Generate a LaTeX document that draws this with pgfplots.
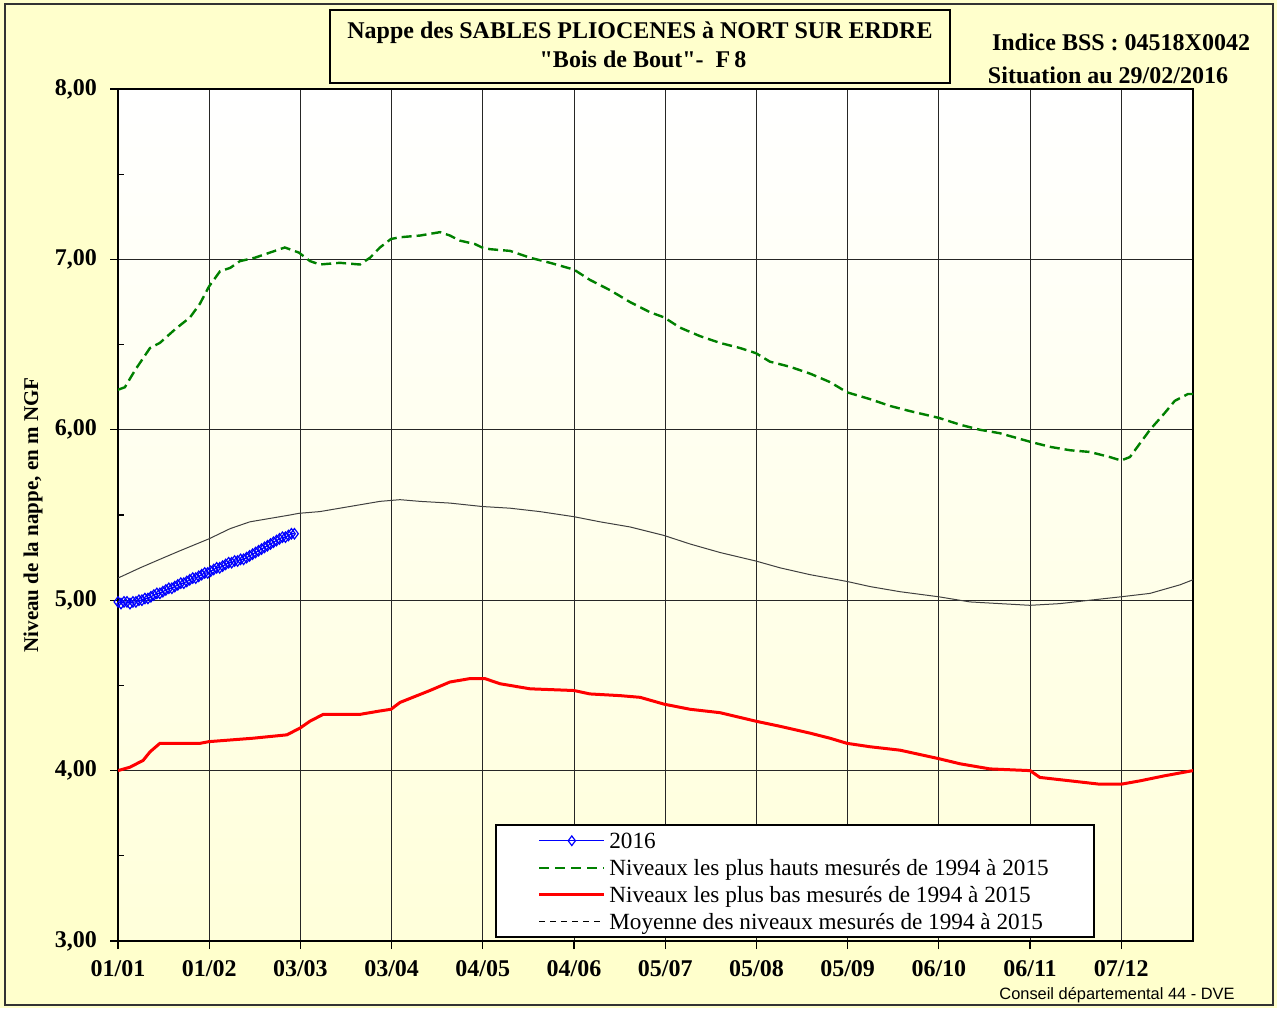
\documentclass[border=0pt]{standalone}
\usepackage{fontspec}
\setmainfont{Liberation Serif}
\setsansfont{Liberation Sans}
\usepackage{pgfplots}
\pgfplotsset{compat=1.18}
\definecolor{cream}{RGB}{255,255,204}
\definecolor{plotbot}{RGB}{255,255,218}
\definecolor{dgreen}{RGB}{0,128,0}
\definecolor{meangray}{RGB}{64,64,64}

\begin{document}
\begin{tikzpicture}[x=1pt,y=1pt]
\useasboundingbox (0,0) rectangle (638.5,504);
\fill[cream] (0,0) rectangle (638.5,504);
\draw[line width=1.2pt, black!80] (2.5,1.5) rectangle (636.5,502);
\begin{axis}[
  at={(59pt,33.5pt)}, anchor=south west,
  width=537.5pt, height=426pt, scale only axis,
  xmin=0, xmax=359.5, ymin=3, ymax=8,
  xtick={0,30.5,61,91.5,122,152.5,183,213.5,244,274.5,305,335.5},
  xticklabels={01/01,01/02,03/03,03/04,04/05,04/06,05/07,05/08,05/09,06/10,06/11,07/12},
  ytick={3,4,5,6,7,8},
  yticklabels={{3,00},{4,00},{5,00},{6,00},{7,00},{8,00}},
  minor ytick={3.5,4.5,5.5,6.5,7.5},
  grid=major,
  major grid style={black!85, line width=0.5pt},
  tick align=outside, major tick length=4pt, minor tick length=3pt,
  xtick pos=bottom, ytick pos=left,
  tick style={black, line width=0.6pt},
  minor y tick style={xshift=3pt},
  axis line style={line width=0.9pt},
  ticklabel style={font=\fontsize{12}{14}\selectfont\bfseries},
  xticklabel style={yshift=-5pt, inner ysep=0.5pt},
  yticklabel style={xshift=-3pt},
  axis background/.style={top color=white, bottom color=plotbot},
  ylabel={Niveau de la nappe, en m NGF},
  ylabel style={at={(axis description cs:-0.0790,0.5)}, anchor=center, font=\fontsize{10.5}{12}\selectfont\bfseries},
  legend image code/.code={\draw[mark repeat=2,mark phase=2,#1] plot coordinates {(0pt,0pt) (16.25pt,0pt) (32.5pt,0pt)};},
  legend style={at={(axis description cs:0.3507,0.0035)}, anchor=south west, draw=black, line width=0.8pt, fill=white,
    font=\fontsize{11.6}{13.5}\selectfont, inner xsep=21pt, inner ysep=1pt, row sep=0pt,
    nodes={inner xsep=1.75pt, inner ysep=0pt, text height=10.5pt, text depth=3pt}},
  legend cell align=left,
]
% Max levels 1994-2015
\addplot[dgreen, line width=1.2pt, dash pattern=on 5pt off 2.5pt, forget plot] coordinates {
(0,6.235) (2.3,6.25) (5.7,6.35) (10.7,6.48) (14.0,6.51) (19.1,6.59) (24.1,6.66) (27.4,6.74)
(30.4,6.84) (34.1,6.93) (37.5,6.95) (40.8,6.99) (45.8,7.01) (50.8,7.04) (55.8,7.07) (60.5,7.04)
(64.2,6.99) (67.5,6.97) (74.2,6.98) (80.9,6.97) (84.3,7.01) (87.6,7.07) (91.3,7.12) (94.3,7.13)
(101.0,7.14) (107.7,7.16) (111.0,7.14) (114.4,7.11) (119.4,7.09) (121.7,7.07) (124.4,7.06)
(131.1,7.05) (137.8,7.01) (144.5,6.98) (152.5,6.94) (157.8,6.88) (164.5,6.82) (171.2,6.75)
(177.9,6.69) (182.6,6.66) (187.9,6.60) (194.6,6.55) (201.3,6.51) (208.0,6.48) (213.3,6.45)
(218.0,6.40) (224.7,6.37) (231.4,6.33) (238.1,6.28) (243.8,6.22) (251.5,6.18) (258.2,6.14)
(264.8,6.11) (274.5,6.07) (281.6,6.03) (288.3,6.00) (294.9,5.98) (305.0,5.93) (311.7,5.90)
(318.4,5.88) (325.0,5.87) (331.7,5.84) (335.4,5.82) (338.4,5.84) (345.1,6.00) (350.1,6.10)
(353.4,6.17) (357.8,6.21) (359.5,6.21)
};
% Mean levels
\addplot[meangray, line width=0.5pt, forget plot] coordinates {
(0,5.13) (7.4,5.19) (14.0,5.24) (20.7,5.29) (30.4,5.36) (37.5,5.42) (44.1,5.46) (50.8,5.48)
(57.5,5.50) (60.5,5.51) (67.5,5.52) (74.2,5.54) (80.9,5.56) (87.6,5.58) (94.3,5.59) (101.0,5.58)
(111.0,5.57) (121.7,5.55) (131.1,5.54) (141.1,5.52) (152.5,5.49) (161.2,5.46) (171.2,5.43)
(182.6,5.38) (191.3,5.33) (201.3,5.28) (213.3,5.23) (221.4,5.19) (231.4,5.15) (243.8,5.11)
(251.5,5.08) (261.5,5.05) (274.5,5.02) (284.9,4.99) (294.9,4.98) (305.0,4.97) (315.0,4.98)
(325.0,5.00) (335.4,5.02) (345.1,5.04) (355.1,5.09) (359.5,5.12)
};
% Min levels
\addplot[red, line width=1.5pt, forget plot] coordinates {
(0,4.00) (4.0,4.02) (8.4,4.06) (10.7,4.11) (14.0,4.16) (27.4,4.16) (30.4,4.17) (45.1,4.19)
(56.5,4.21) (60.9,4.25) (64.2,4.29) (68.6,4.33) (80.9,4.33) (87.6,4.35) (91.3,4.36) (94.3,4.40)
(104.3,4.47) (111.0,4.52) (117.7,4.54) (122.7,4.54) (127.7,4.51) (137.8,4.48) (152.5,4.47)
(157.8,4.45) (167.9,4.44) (174.6,4.43) (182.6,4.39) (191.3,4.36) (201.3,4.34) (213.3,4.29)
(221.4,4.26) (231.4,4.22) (238.1,4.19) (243.8,4.16) (251.5,4.14) (261.5,4.12) (274.5,4.07)
(281.6,4.04) (291.6,4.01) (305.0,4.00) (308.3,3.96) (318.4,3.94) (328.4,3.92) (335.4,3.92)
(341.8,3.94) (350.1,3.97) (359.5,4.00)
};
% 2016
\addplot[blue, line width=0.6pt, mark=diamond, mark size=2.6pt, mark options={solid, blue, line width=0.6pt}, forget plot] coordinates {
(0,4.99) (1,4.98) (2,4.99) (3,4.99) (4,4.98) (5,4.99) (6,4.99) (7,5.00) (8,5.00) (9,5.01)
(10,5.01) (11,5.02) (12,5.03) (13,5.04) (14,5.04) (15,5.05) (16,5.06) (17,5.07) (18,5.07) (19,5.08)
(20,5.09) (21,5.10) (22,5.10) (23,5.11) (24,5.12) (25,5.13) (26,5.13) (27,5.14) (28,5.15) (29,5.16)
(30,5.16) (31,5.17) (32,5.18) (33,5.19) (34,5.19) (35,5.20) (36,5.21) (37,5.22) (38,5.22) (39,5.23)
(40,5.23) (41,5.24) (42,5.24) (43,5.25) (44,5.26) (45,5.27) (46,5.28) (47,5.29) (48,5.30) (49,5.31)
(50,5.32) (51,5.33) (52,5.34) (53,5.35) (54,5.36) (55,5.37) (56,5.37) (57,5.38) (58,5.39) (59,5.39)
};
\addlegendimage{blue, line width=0.6pt, mark=diamond, mark size=2.4pt, mark options={solid, fill=white, line width=0.6pt}}
\addlegendentry{2016}
\addlegendimage{dgreen, line width=1.2pt, dash pattern=on 5pt off 3pt}
\addlegendentry{Niveaux les plus hauts mesurés de 1994 à 2015}
\addlegendimage{red, line width=1.5pt}
\addlegendentry{Niveaux les plus bas mesurés de 1994 à 2015}
\addlegendimage{black, line width=0.5pt, dash pattern=on 3pt off 2.5pt}
\addlegendentry{Moyenne des niveaux mesurés de 1994 à 2015}
\end{axis}
\node[draw=black, line width=0.9pt, fill=cream, minimum width=310pt, minimum height=36.5pt, inner sep=0pt] at (320,480.75) {};
\node[font=\fontsize{12}{14}\selectfont\bfseries] at (320,487.5) {Nappe des SABLES PLIOCENES à NORT SUR ERDRE};
\node[font=\fontsize{12}{14}\selectfont\bfseries] at (321.5,474.5) {\textquotedbl Bois de Bout\textquotedbl -\ \ F\,8};
\node[font=\fontsize{12}{14}\selectfont\bfseries] at (560.5,483) {Indice BSS : 04518X0042};
\node[font=\fontsize{12}{14}\selectfont\bfseries] at (554,466.5) {Situation au 29/02/2016};
\node[font=\sffamily\fontsize{8.2}{10}\selectfont, anchor=base east, inner sep=0pt] at (617.5,4.5) {Conseil départemental 44 - DVE};
\end{tikzpicture}
\end{document}
